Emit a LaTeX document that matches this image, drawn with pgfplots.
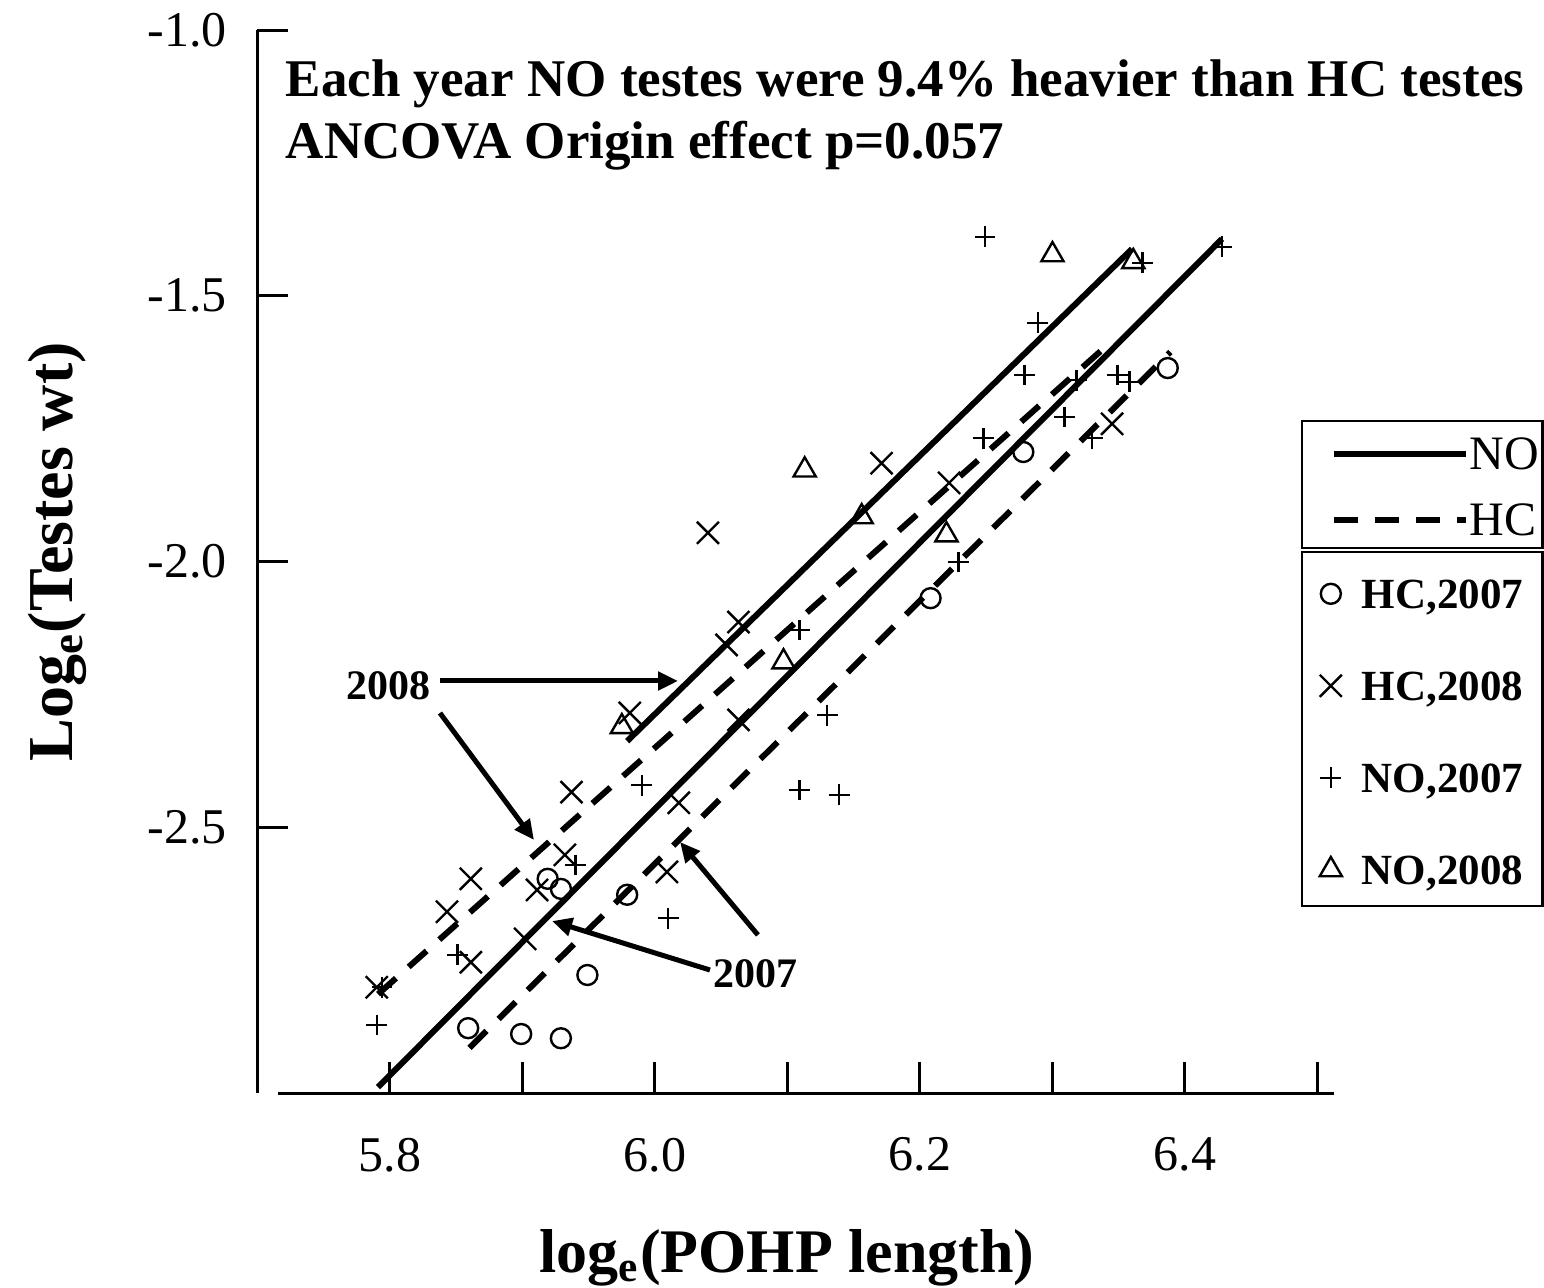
\documentclass[border=0pt]{standalone}
\usepackage{fontspec}
\setmainfont{Liberation Serif}
\usepackage{pgfplots}
\pgfplotsset{compat=1.18}
\usetikzlibrary{arrows.meta}

\begin{document}
\begin{tikzpicture}
\useasboundingbox (0pt,0pt) rectangle (386pt,321.75pt);
\begin{axis}[
  at={(64.375pt,48.5pt)}, anchor=south west,
  scale only axis, width=271.625pt, height=265.75pt,
  xmin=5.70, xmax=6.52, ymin=-3, ymax=-1,
  clip=false,
  axis x line=bottom, axis y line=left,
  x axis line style={draw=none},
  y axis line style={-, line width=0.75pt},
  tick align=inside,
  major tick length=7.75pt,
  tick style={line width=0.75pt, black},
  xtick={5.8,5.9,6.0,6.1,6.2,6.3,6.4,6.5},
  xticklabels={5.8,,6.0,,6.2,,6.4,},
  ytick={-2.5,-2.0,-1.5,-1.0},
  yticklabels={-2.5,-2.0,-1.5,-1.0},
  tick label style={font=\fontsize{12.5}{15}\selectfont},
  xticklabel style={anchor=north, inner sep=0pt, yshift=-11pt},
  yticklabel style={anchor=east, inner sep=0pt, xshift=-7.5pt},
  xlabel={log\textsubscript{e}(POHP length)},
  ylabel={Log\textsubscript{e}(Testes wt)},
  xlabel style={at={(axis description cs:0.4873,-0.1693)}, anchor=base, font=\fontsize{15.5}{18}\selectfont\bfseries},
  ylabel style={at={(axis description cs:-0.1707,0.509)}, anchor=base, font=\fontsize{16}{19}\selectfont\bfseries},
  legend style={at={(0.97699,0.48448)}, anchor=north west, draw=none, fill=none, inner sep=0pt, row sep=15.5pt, column sep=5pt, font=\fontsize{10.75}{13}\selectfont\bfseries, nodes={inner sep=0pt, text height=7.5pt, text depth=0pt}},
  legend cell align=left,
  legend image code/.code={\draw[#1] plot coordinates {(0pt,0pt)};},
]
% HC,2007
\addplot[only marks, mark=o, mark size=2.5pt, mark options={line width=0.6pt}] coordinates {
(6.387,-1.636) (6.278,-1.794) (6.208,-2.069) (5.979,-2.627) (5.919,-2.597)
(5.929,-2.616) (5.949,-2.778) (5.859,-2.878) (5.899,-2.889) (5.929,-2.897)
};
\addlegendentry{HC,2007}
% HC,2008
\addplot[only marks, mark=x, mark size=3.9pt, mark options={line width=0.6pt}] coordinates {
(6.040,-1.946) (6.171,-1.815) (6.222,-1.852) (6.345,-1.741) (6.063,-2.114)
(6.054,-2.157) (5.981,-2.285) (6.063,-2.298) (5.937,-2.434) (6.018,-2.454)
(5.932,-2.552) (5.861,-2.597) (5.911,-2.618) (6.009,-2.584) (5.843,-2.659)
(5.902,-2.710) (5.861,-2.754) (5.790,-2.801)
};
\addlegendentry{HC,2008}
% NO,2007
\addplot[only marks, mark=+, mark size=2.6pt, mark options={line width=0.6pt}] coordinates {
(6.249,-1.389) (6.428,-1.408) (6.368,-1.438) (6.289,-1.551) (6.279,-1.649)
(6.318,-1.659) (6.349,-1.649) (6.358,-1.662) (6.309,-1.728) (6.330,-1.768)
(6.248,-1.768) (6.229,-2.001) (6.109,-2.129) (6.130,-2.289) (5.990,-2.421)
(6.109,-2.430) (6.139,-2.439) (5.940,-2.571) (6.010,-2.671) (5.851,-2.740)
(5.794,-2.801) (5.790,-2.872)
};
\addlegendentry{NO,2007}
% NO,2008
\addplot[only marks, mark=triangle, mark size=3.2pt, mark options={line width=0.6pt}] coordinates {
(6.300,-1.423) (6.361,-1.436) (6.113,-1.828) (6.156,-1.916) (6.220,-1.950)
(6.097,-2.189) (5.975,-2.311)
};
\addlegendentry{NO,2008}
% regression lines
\addplot[forget plot, no marks, line width=1.5pt] coordinates {(5.979,-2.338) (6.360,-1.412)};
\addplot[forget plot, no marks, line width=1.5pt] coordinates {(5.791,-2.989) (6.428,-1.393)};
\addplot[forget plot, no marks, line width=1.5pt, dash pattern=on 6pt off 4.25pt] coordinates {(5.791,-2.814) (6.345,-1.585)};
\addplot[forget plot, no marks, line width=1.5pt, dash pattern=on 6pt off 4.25pt] coordinates {(5.860,-2.915) (6.389,-1.606)};
% x axis line
\draw[line width=0.75pt] (axis cs:5.7155,-3) -- (axis cs:6.5125,-3);
% title
\node[anchor=base west, inner sep=0pt, font=\fontsize{13.25}{16}\selectfont\bfseries] at (axis cs:5.7208,-1.126) {Each year NO testes were 9.4\% heavier than HC testes};
\node[anchor=base west, inner sep=0pt, font=\fontsize{13.25}{16}\selectfont\bfseries] at (axis cs:5.7208,-1.241) {ANCOVA Origin effect p=0.057};
% annotations
\node[inner sep=0pt, font=\fontsize{10.5}{12}\selectfont\bfseries] at (axis cs:5.7985,-2.2343) {2008};
\node[inner sep=0pt, font=\fontsize{10.5}{12}\selectfont\bfseries] at (axis cs:6.0762,-2.7761) {2007};
\draw[line width=1.25pt, -{Triangle[length=5pt,width=4.5pt]}] (axis cs:5.8377,-2.2248) -- (axis cs:6.0174,-2.2248);
\draw[line width=1.25pt, -{Triangle[length=5pt,width=4.5pt]}] (axis cs:5.8377,-2.2850) -- (axis cs:5.9087,-2.5240);
\draw[line width=1.25pt, -{Triangle[length=5pt,width=4.5pt]}] (axis cs:6.0415,-2.7686) -- (axis cs:5.9223,-2.6764);
\draw[line width=1.25pt, -{Triangle[length=5pt,width=4.5pt]}] (axis cs:6.0777,-2.7027) -- (axis cs:6.0189,-2.5277);
\end{axis}
\begin{axis}[
  at={(64.375pt,48.5pt)}, anchor=south west,
  scale only axis, width=271.625pt, height=265.75pt,
  xmin=5.70, xmax=6.52, ymin=-3, ymax=-1,
  hide axis,
  legend style={at={(0.98711,0.61712)}, anchor=north west, draw=none, fill=none, inner sep=0pt, row sep=8.5pt, column sep=0.25pt, font=\fontsize{12}{14}\selectfont, nodes={inner sep=0pt, text height=8pt, text depth=0pt}},
  legend cell align=left,
  legend image code/.code={\draw[#1] (0pt,0pt) -- (33pt,0pt);},
]
\addlegendimage{line width=1.5pt, black}
\addlegendentry{NO}
\addlegendimage{line width=1.5pt, black, dash pattern=on 6pt off 4.25pt}
\addlegendentry{HC}
\end{axis}
\draw[line width=0.65pt] (325.5pt,216.5pt) rectangle (385.6pt,184.75pt);
\draw[line width=0.65pt] (325.5pt,183.75pt) rectangle (385.6pt,95.25pt);
\end{tikzpicture}
\end{document}
